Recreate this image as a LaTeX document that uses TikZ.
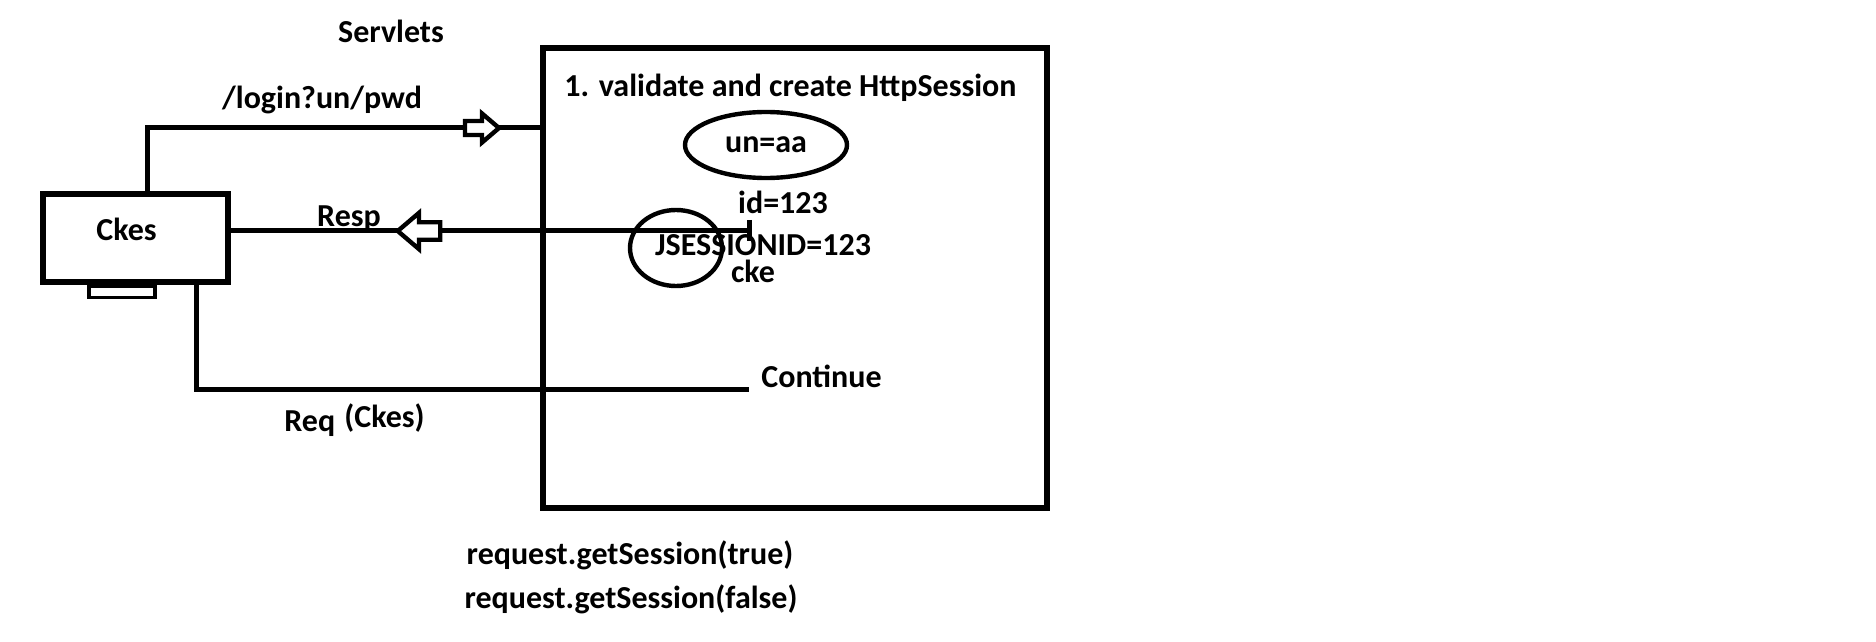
\documentclass[tikz,border=0pt]{standalone}
\usepackage{fontspec}
\setmainfont{Carlito}
\usepackage{tikz}
\usetikzlibrary{positioning, shapes.geometric, calc}
\tikzset{
  lbl/.style={font=\fontsize{16}{19}\selectfont\bfseries, inner sep=0pt},
  wire/.style={line width=2.5pt},
  frame/.style={draw, line width=2.7pt, inner sep=0pt},
  oval/.style={ellipse, draw, line width=2.2pt, inner sep=0pt,
               font=\fontsize{16}{19}\selectfont\bfseries},
  hollow/.pic={\draw[line width=2.2pt, fill=white, line join=miter]
     (-17,-7) -- (0,-7) -- (0,-14.5) -- (17,0) -- (0,14.5) -- (0,7) -- (-17,7) -- cycle;},
}

\begin{document}
\begin{tikzpicture}[x=0.5pt, y=-0.5pt]
  \useasboundingbox (0,0) rectangle (1876,642);

  % servlet side
  \node[frame, minimum width=252pt, minimum height=230pt] (servlet) at (795,278) {};
  \node[lbl] (title) at (391,31) {Servlets};
  \node[lbl, anchor=west] (validate) at (564,88) {1. validate and create HttpSession};
  \node[oval, minimum width=81pt, minimum height=33pt] (sess) at (766,145) {un=aa};
  \node[lbl] (sid) at (783,202) {id=123};
  \node[oval, minimum width=46pt, minimum height=38pt] (cookie) at (676,248) {};
  \node[lbl] (jsid) at (763,245) {JSESSIONID=123};
  \node[lbl, below=2pt of jsid, xshift=-5pt] (cke) {cke};

  % client side
  \node[frame, minimum width=92.5pt, minimum height=44pt,
        label={[lbl, xshift=-4.5pt, yshift=4.5pt]center:Ckes}] (ckes) at (135.5,238) {};
  \node[draw, line width=1.8pt, minimum width=33pt, minimum height=5.5pt, inner sep=0pt,
        below=0pt of ckes.south, xshift=-6.75pt] (stand) {};

  \coordinate (up) at (147,128);
  \coordinate (resp) at (749,231);
  \coordinate (down) at (196,389);
  \coordinate (cont) at (749,389);

  \draw[wire] (ckes.north -| up) |- (servlet.west |- up);
  \draw[wire] (ckes.east |- resp) -- (resp);
  \draw[wire] (resp) ++(0,-11) -- ++(0,21);
  \draw[wire] (ckes.south -| down) |- (cont);

  \pic at (482,128) {hollow};
  \pic[rotate=180, scale=1.25] at (419,231) {hollow};

  \node[lbl] (login) at (322,100) {/login?un/pwd};
  \node[lbl] (resplbl) at (349,219) {Resp};
  \node[lbl, anchor=west] (continue) at (761,376) {Continue};
  \node[lbl, anchor=base west] (req) at (284,431) {Req};
  \node[lbl, anchor=base west] (reqckes) at (344,427) {(Ckes)};

  \node[lbl] (gettrue) at (630,555) {request.getSession(true)};
  \node[lbl] (getfalse) at (631,599) {request.getSession(false)};
\end{tikzpicture}
\end{document}
